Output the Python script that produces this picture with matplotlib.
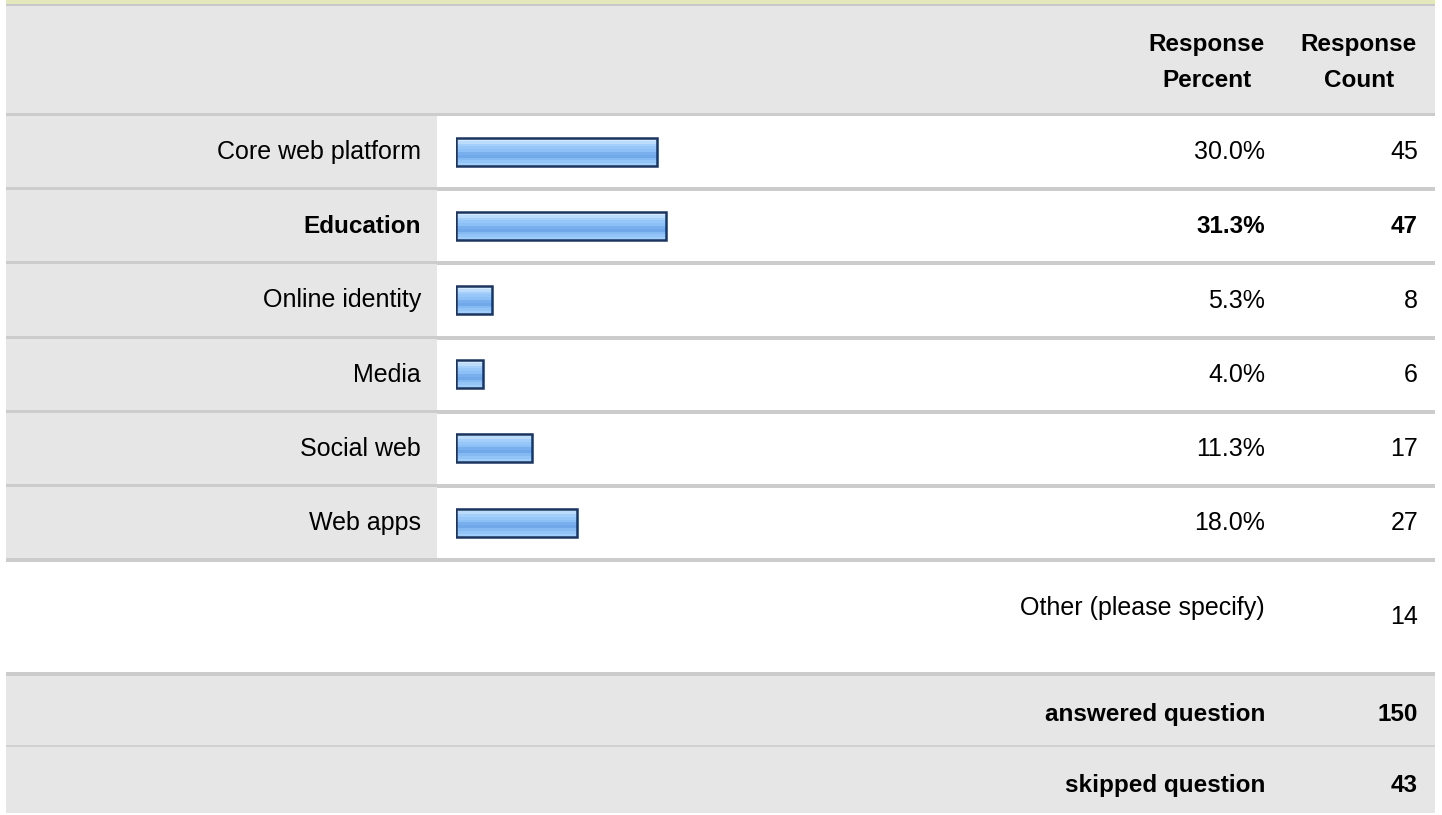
import numpy as np
import matplotlib.pyplot as plt
from matplotlib.patches import Rectangle
from matplotlib.colors import to_rgb

categories = ['Core web platform', 'Education', 'Online identity', 'Media', 'Social web', 'Web apps']
percents = [30.0, 31.3, 5.3, 4.0, 11.3, 18.0]
counts = [45, 47, 8, 6, 17, 27]
highlight = 'Education'
other_label = 'Other (please specify)'
other_count = 14
answered = 150
skipped = 43

W, H = 1442, 815
FS = 17.5
FS_REG = 18
plt.rcParams['font.family'] = ['Liberation Sans', 'DejaVu Sans']

fig = plt.figure(figsize=(W / 100, H / 100), dpi=100)
bg = fig.add_axes([0, 0, 1, 1])
bg.set_xlim(0, W)
bg.set_ylim(H, 0)
bg.axis('off')

GRAY = '#e6e6e6'
SEP = '#cccccc'
L, R = 6, 1435

def box(x0, y0, x1, y1, c):
    bg.add_patch(Rectangle((x0, y0), x1 - x0, y1 - y0, facecolor=c, edgecolor='none'))

# header
box(L, 0, R, 4, '#e4e9bd')
box(L, 4, R, 6, '#c8c8c8')
box(L, 6, R, 113, GRAY)
box(L, 113, R, 116, SEP)
bg.text(1207, 51, 'Response', ha='center', va='baseline', fontsize=FS, fontweight='bold')
bg.text(1207, 87, 'Percent', ha='center', va='baseline', fontsize=FS, fontweight='bold')
bg.text(1359, 51, 'Response', ha='center', va='baseline', fontsize=FS, fontweight='bold')
bg.text(1359, 87, 'Count', ha='center', va='baseline', fontsize=FS, fontweight='bold')

# rows
row_h = 74.2
top0 = 116
for i, (cat, p, c) in enumerate(zip(categories, percents, counts)):
    t = top0 + row_h * i
    box(L, t, 437, t + row_h - 3, GRAY)
    box(L, t + row_h - 3, R, t + row_h + 1, SEP)
    bold = cat == highlight
    fw = 'bold' if bold else 'normal'
    fs = FS if bold else FS_REG
    yb = t + 35.6 + 7.5
    bg.text(421, yb, cat, ha='right', va='baseline', fontsize=fs, fontweight=fw)
    bg.text(1265, yb, '%.1f%%' % p, ha='right', va='baseline', fontsize=fs, fontweight=fw)
    bg.text(1418, yb, str(c), ha='right', va='baseline', fontsize=fs, fontweight=fw)

# other / totals
bg.text(1265, 615, other_label, ha='right', va='baseline', fontsize=FS_REG)
bg.text(1418, 624, str(other_count), ha='right', va='baseline', fontsize=FS_REG)
box(L, 672, R, 676, SEP)
box(L, 676, R, 745, GRAY)
box(L, 745, R, 747, '#d2d2d2')
box(L, 747, R, 813, GRAY)
bg.text(1265, 721, 'answered question', ha='right', va='baseline', fontsize=FS, fontweight='bold')
bg.text(1418, 721, str(answered), ha='right', va='baseline', fontsize=FS, fontweight='bold')
bg.text(1265, 792, 'skipped question', ha='right', va='baseline', fontsize=FS, fontweight='bold')
bg.text(1418, 792, str(skipped), ha='right', va='baseline', fontsize=FS, fontweight='bold')

# bars
px_per_pct = 6.7
bx0 = 456
bottom_px = top0 + row_h * 6
ax = fig.add_axes([bx0 / W, (H - bottom_px) / H, 100 * px_per_pct / W, (row_h * 6) / H])
ax.axis('off')
ax.patch.set_alpha(0)

stops = ['#d3e9fe', '#bcdcfc', '#a3cffa', '#96c7f8', '#8dc0f6', '#78afec', '#70a8e9', '#84b9f2', '#92c4f7', '#a0cdf9']
grad = np.array([to_rgb(s) for s in stops])[:, None, :]
bar_h = 28 / row_h
for i, p in enumerate(percents):
    ax.imshow(grad, extent=(0, p, i + bar_h / 2, i - bar_h / 2), aspect='auto',
              interpolation='nearest', zorder=2)
ax.barh(range(len(percents)), percents, height=bar_h, fill=False,
        edgecolor='#1c355e', linewidth=1.8, zorder=3)
ax.set_xlim(0, 100)
ax.set_ylim(5.52, -0.48)

fig.savefig('out.png', dpi=100)
